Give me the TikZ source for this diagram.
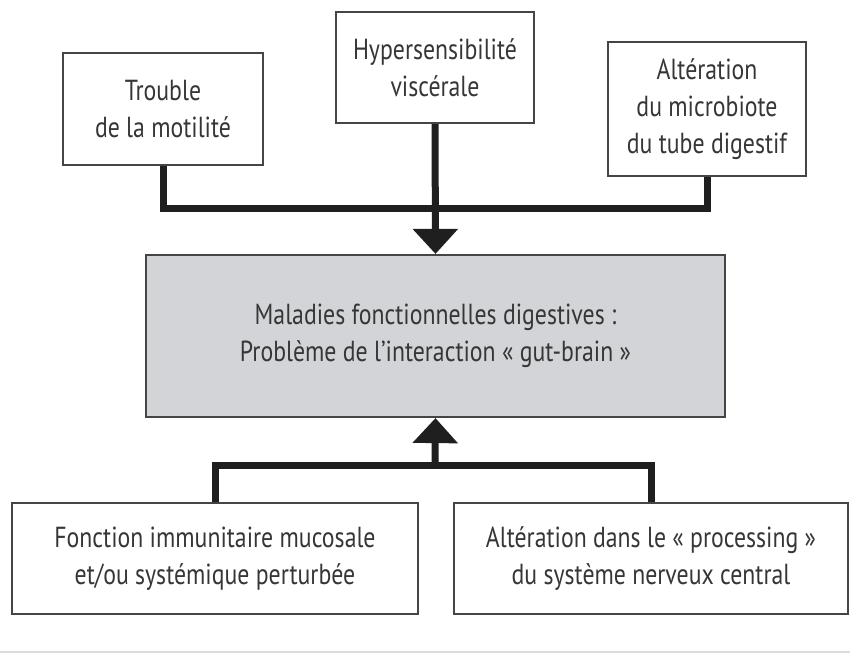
\documentclass[tikz,border=0pt]{standalone}
\usepackage{fontspec}
\setmainfont{PT Sans}[FakeStretch=0.82]
\usepackage{xcolor}
\usepackage{tikz}
\usetikzlibrary{arrows.meta}
\definecolor{ink}{HTML}{363636}
\definecolor{frame}{HTML}{454545}
\definecolor{shade}{HTML}{D2D4D7}
\definecolor{rule}{HTML}{DCDCDC}
\newcommand{\boxfont}{\fontsize{29}{37}\selectfont}
\tikzset{
  box/.style={draw=frame, line width=2.2pt, fill=white, align=center, text=ink, font=\boxfont, inner sep=0pt},
  core/.style={box, fill=shade},
  link/.style={draw=black!88, line width=7pt},
  tip/.style={-{Triangle[width=44pt,length=25pt]}},
}

\begin{document}
\begin{tikzpicture}[x=1pt,y=-1pt]
  \useasboundingbox (0,0) rectangle (850,658);
  % top causes
  \node[box, minimum width=200pt, minimum height=112pt] (motil) at (163,109) {Trouble\\de la motilité};
  \node[box, minimum width=198pt, minimum height=111pt] (hyper) at (435,67.5) {Hypersensibilité\\viscérale};
  \node[box, minimum width=198pt, minimum height=134pt] (micro) at (707,109) {Altération\\du microbiote\\du tube digestif};
  % central box
  \node[core, minimum width=579pt, minimum height=162pt] (gut) at (435.5,336) {Maladies fonctionnelles digestives :\\Problème de l’interaction « gut-brain »};
  % bottom causes
  \node[box, minimum width=406pt, minimum height=111pt] (immun) at (215,558.5) {Fonction immunitaire mucosale\\et/ou systémique perturbée};
  \node[box, minimum width=394pt, minimum height=111pt] (snc) at (651,558.5) {Altération dans le « processing »\\du système nerveux central};
  \coordinate (topbar) at (435,208);
  \coordinate (lowbar) at (435,465);
  % connectors
  \draw[link] (motil.south) -- (motil.south |- topbar) -| (micro.south);
  \draw[link, tip] (hyper.south) -- (gut.north);
  \draw[link] (immun.north) -- (immun.north |- lowbar) -| (snc.north);
  \draw[link, tip] (lowbar) -- (gut.south);
  \draw[rule, line width=1.2pt] (0,652) -- (850,652);
\end{tikzpicture}
\end{document}
